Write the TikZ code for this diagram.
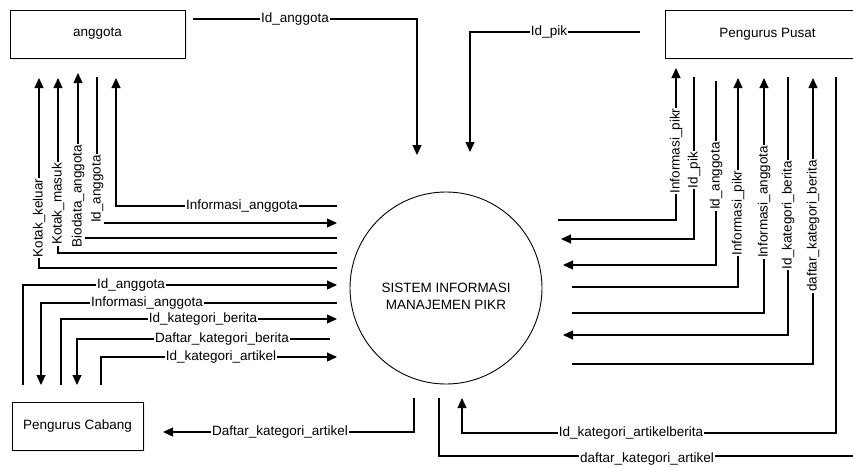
\documentclass[tikz,border=0pt]{standalone}
\usepackage{fontspec}
\setmainfont{Liberation Sans}
\usetikzlibrary{arrows.meta,shadows}
\begin{document}
\begin{tikzpicture}[x=1pt,y=-1pt,
  every node/.style={font=\fontsize{13.5}{17}\selectfont},
  ent/.style={draw, line width=0.9pt, fill=white, inner sep=0pt,
    drop shadow={shadow xshift=2pt, shadow yshift=-2pt, fill=blue!20!black!10, opacity=0.6}},
  flow/.style={line width=1.2pt},
  arr/.style={flow, -{Triangle[length=10pt,width=9pt]}},
  lbl/.style={fill=white, inner sep=1pt, text height=9.5pt, text depth=2.5pt},
  vlbl/.style={lbl, rotate=90}]
\useasboundingbox (0,0) rectangle (853,467);

% entities
\node[ent, minimum width=175pt, minimum height=48pt] (anggota) at (97.5,34) {anggota};
\node[ent, minimum width=205pt, minimum height=48pt] (pusat) at (767.5,34) {Pengurus Pusat};
\node[ent, minimum width=131pt, minimum height=48pt] (cabang) at (77.5,426) {Pengurus Cabang};

% process
\node[draw, circle, line width=0.9pt, minimum size=192pt, inner sep=0pt] (sys) at (446,288) {};
\node[align=center] (systext) at (446,296) {SISTEM INFORMASI\\MANAJEMEN PIKR};

% top connectors
\draw[arr] (193,19) -| (417,155);
\draw[arr] (640,32) -| (470,152);

% anggota group
\draw[arr] (337,268) -| (39,78);
\draw[arr] (337,253) -| (58,78);
\draw[arr] (337,238) -| (78,73);
\draw[arr] (97,77) |- (337,223);
\draw[arr] (337,206) -| (116,78);

% cabang group
\draw[arr] (23,385) |- (337,285);
\draw[arr] (337,303) -| (41,385);
\draw[arr] (61,385) |- (337,319);
\draw[arr] (330,339) -| (77,385);
\draw[arr] (101,385) |- (337,357);

% bottom
\draw[arr] (414,398) |- (163,432);
\draw[flow] (439,398) |- (853,456);
\draw[arr] (836,77) |- (462,433) -- (462,398);

% pusat group
\draw[arr] (558,220) -| (676,68);
\draw[arr] (694,77) |- (561,239);
\draw[arr] (716,81) |- (563,265);
\draw[arr] (572,287) -| (738,78);
\draw[arr] (572,313) -| (764,78);
\draw[arr] (788,77) |- (563,335);
\draw[arr] (572,364) -| (813,78);

% labels
\node[lbl] (t1) at (295,19) {Id\_anggota};
\node[lbl] (t2) at (549,32) {Id\_pik};

\node[vlbl] (a1) at (39,218) {Kotak\_keluar};
\node[vlbl] (a2) at (58,204) {Kotak\_masuk};
\node[vlbl] (a3) at (78,196) {Biodata\_anggota};
\node[vlbl] (a4) at (97,189) {Id\_anggota};
\node[lbl] (a5) at (242,206) {Informasi\_anggota};

\node[lbl] (c1) at (131,285) {Id\_anggota};
\node[lbl] (c2) at (147,303) {Informasi\_anggota};
\node[lbl] (c3) at (203,319) {Id\_kategori\_berita};
\node[lbl] (c4) at (222,339) {Daftar\_kategori\_berita};
\node[lbl] (c5) at (221,357) {Id\_kategori\_artikel};

\node[lbl] (b1) at (280,432) {Daftar\_kategori\_artikel};
\node[lbl] (b2) at (631,433) {Id\_kategori\_artikelberita};
\node[lbl] (b3) at (647,459) {daftar\_kategori\_artikel};

\node[vlbl] (p1) at (676,151) {Informasi\_pikr};
\node[vlbl] (p2) at (694,170) {Id\_pik};
\node[vlbl] (p3) at (716,176) {Id\_anggota};
\node[vlbl] (p4) at (738,213) {Informasi\_pikr};
\node[vlbl] (p5) at (764,202) {Informasi\_anggota};
\node[vlbl] (p6) at (788,215) {Id\_kategori\_berita};
\node[vlbl] (p7) at (813,226) {daftar\_kategori\_berita};
\end{tikzpicture}
\end{document}
